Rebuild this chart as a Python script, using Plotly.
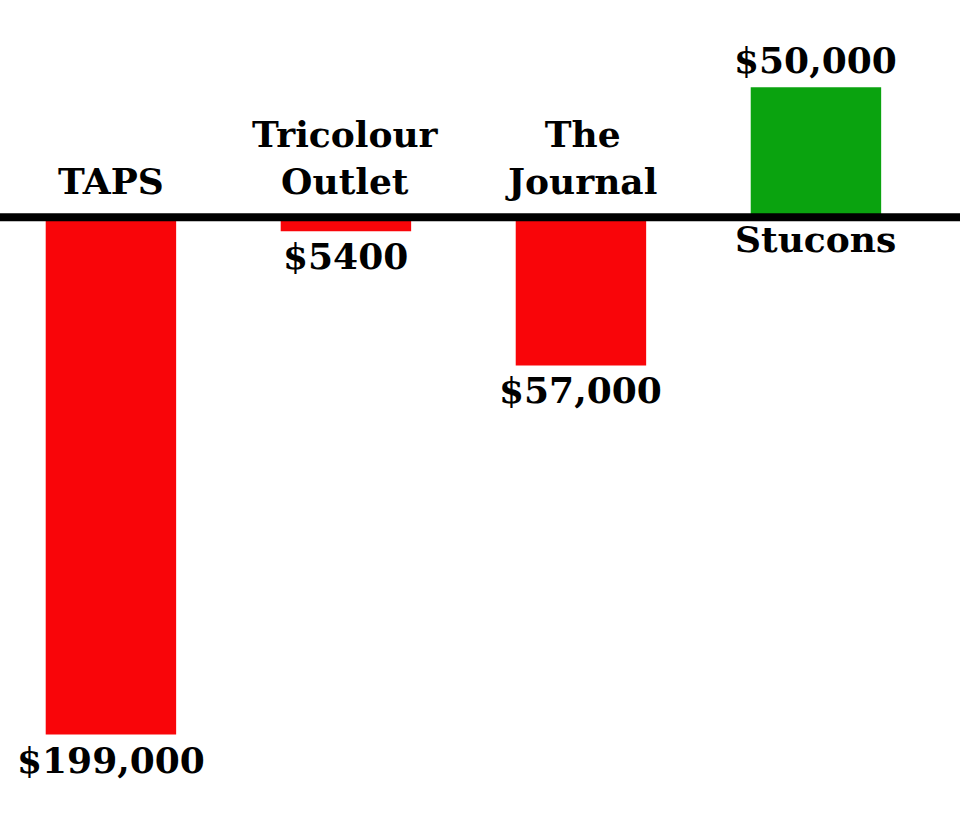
import plotly.graph_objects as go

# Net result per business
names = ["TAPS", "Tricolour<br>Outlet", "The<br>Journal", "Stucons"]
values = [-199000, -5400, -57000, 50000]
value_labels = ["$199,000", "$5400", "$57,000", "$50,000"]

RED = "#f90509"
GREEN = "#0aa30f"
FONT = dict(family="DejaVu Serif", size=36, color="black", weight="bold")

fig = go.Figure()
fig.add_trace(go.Bar(
    x=list(range(len(names))),
    y=values,
    width=0.555,
    marker=dict(color=[GREEN if v > 0 else RED for v in values], line_width=0),
    hoverinfo="skip",
))

# zero line across the whole picture
fig.add_shape(type="line", xref="paper", x0=0, x1=1, y0=0, y1=0,
              line=dict(color="black", width=8), layer="above")

for i, (name, v, lab) in enumerate(zip(names, values, value_labels)):
    if v < 0:
        fig.add_annotation(x=i, y=0, text=name, showarrow=False,
                           yanchor="bottom", yshift=13, font=FONT)
        fig.add_annotation(x=i, y=v, text=lab, showarrow=False,
                           yanchor="top", yshift=-2, font=FONT)
    else:
        fig.add_annotation(x=i, y=0, text=name, showarrow=False,
                           yanchor="top", yshift=1, font=FONT)
        fig.add_annotation(x=i, y=v, text=lab, showarrow=False,
                           yanchor="bottom", yshift=4, font=FONT)

fig.update_layout(
    width=960, height=836,
    margin=dict(l=0, r=0, t=0, b=0),
    plot_bgcolor="white", paper_bgcolor="white",
    showlegend=False,
    xaxis=dict(range=[-0.472, 3.613], visible=False, fixedrange=True),
    yaxis=dict(range=[-238000, 83600], visible=False, fixedrange=True),
)

# page body margin would push the figure off the window
fig.write_html("out.html", config={"displayModeBar": False},
               post_script="document.body.style.margin='0';")
